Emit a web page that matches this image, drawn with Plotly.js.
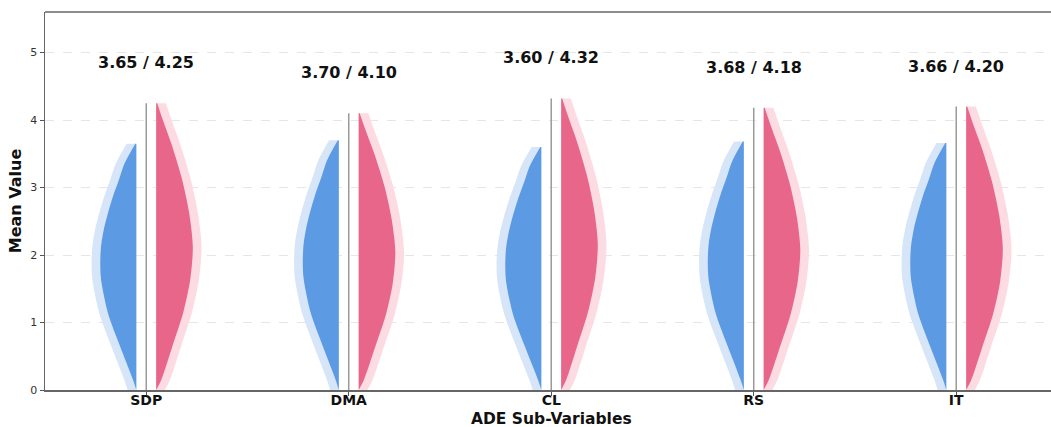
<!DOCTYPE html>
<html>
<head>
<meta charset="utf-8">
<script src="https://cdn.plot.ly/plotly-3.0.1.min.js"></script>
<style>
html,body{margin:0;padding:0;background:#fff;}
#chart{width:1051px;height:427px;}
</style>
</head>
<body>
<div id="chart"></div>
<script>
// ---- data ----
const categories = ["SDP", "DMA", "CL", "RS", "IT"];
const blueMax = [3.65, 3.70, 3.60, 3.68, 3.66];
const redMax  = [4.25, 4.10, 4.32, 4.18, 4.20];
// density profiles: half-widths (category units) at fractions of each series' max height
const blueLevels = [0, 0.041, 0.175, 0.312, 0.447, 0.515, 0.584, 0.649, 0.718, 0.786, 0.855, 0.92, 1];
const blueWidths = [0, 0.016, 0.079, 0.140, 0.174, 0.178, 0.174, 0.161, 0.140, 0.115, 0.085, 0.058, 0.005];
const redLevels  = [0, 0.035, 0.15, 0.268, 0.384, 0.5, 0.617, 0.734, 0.85, 0.941, 1];
const redWidths  = [0, 0.025, 0.079, 0.133, 0.168, 0.181, 0.163, 0.128, 0.079, 0.033, 0.005];

// ---- styling ----
const GAP = 0.049;      // distance from centre line to each half
const HALO = 0.043;     // halo thickness
const blueFill = "#5c9be4", blueHalo = "#d7e5f8";
const redFill = "#e8668a", redHalo = "#fddbe3";

const traces = [];
function half(c, maxV, levels, widths, side, extra, color) {
  const base = c + side * GAP;
  const ys = levels.map(t => t * maxV);
  // base line (invisible), the curve is filled against it
  traces.push({x: [base, base], y: [0, maxV], mode: "lines", line: {width: 0, color: "rgba(0,0,0,0)"},
               hoverinfo: "skip", showlegend: false});
  traces.push({x: widths.map(w => base + side * (w + extra)), y: ys, mode: "lines",
               line: {width: 0, shape: "spline", smoothing: 0.8, color: color},
               fill: "tonextx", fillcolor: color, hoverinfo: "skip", showlegend: false});
}
categories.forEach((cat, i) => {
  half(i, blueMax[i], blueLevels, blueWidths, -1, HALO, blueHalo);
  half(i, redMax[i], redLevels, redWidths, 1, HALO, redHalo);
  half(i, blueMax[i], blueLevels, blueWidths, -1, 0, blueFill);
  half(i, redMax[i], redLevels, redWidths, 1, 0, redFill);
  traces.push({x: [i, i], y: [0, redMax[i]], mode: "lines", line: {color: "#9a9a9a", width: 1.5},
               hoverinfo: "skip", showlegend: false});
});

const annotations = categories.map((cat, i) => ({
  x: i, y: redMax[i] + 0.6, xref: "x", yref: "y",
  text: blueMax[i].toFixed(2) + " / " + redMax[i].toFixed(2),
  showarrow: false, yanchor: "middle",
  font: {family: "DejaVu Sans", size: 16, color: "#111", weight: "bold"}
}));
annotations.push({
  x: 2, xref: "x", y: -0.0754, yref: "paper", yanchor: "middle", showarrow: false,
  text: "ADE Sub-Variables", borderpad: 0,
  font: {family: "DejaVu Sans", size: 15.5, color: "#111", weight: "bold"}
});

const layout = {
  width: 1051, height: 427,
  margin: {l: 45, r: 0, t: 12, b: 37},
  paper_bgcolor: "#fff", plot_bgcolor: "#fff",
  showlegend: false,
  font: {family: "DejaVu Sans", color: "#222"},
  xaxis: {
    range: [-0.5, 4.468], tickmode: "array", tickvals: categories.map((c, i) => i), ticktext: categories,
    tickfont: {family: "DejaVu Sans", size: 14, color: "#111", weight: "bold"},
    ticks: "outside", ticklen: 4, tickcolor: "#555", ticklabelstandoff: -7,
    showline: true, linecolor: "#666", linewidth: 1.5, showgrid: false, zeroline: false,
    automargin: false
  },
  yaxis: {
    range: [0, 5.6], tickvals: [0, 1, 2, 3, 4, 5],
    tickfont: {family: "DejaVu Sans", size: 11, color: "#333"},
    ticks: "outside", ticklen: 4, tickcolor: "#555",
    showline: true, linecolor: "#666", linewidth: 1.5,
    showgrid: true, gridcolor: "#e6e6e6", griddash: "dash", gridwidth: 1, zeroline: false,
    title: {text: "Mean Value", font: {family: "DejaVu Sans", size: 16, color: "#111", weight: "bold"}, standoff: 4},
    automargin: false
  },
  shapes: [{type: "line", xref: "paper", yref: "paper", x0: 0, x1: 1, y0: 1, y1: 1,
            line: {color: "#666", width: 1.5}}],
  annotations: annotations
};

Plotly.newPlot("chart", traces, layout, {displayModeBar: false, staticPlot: true});
</script>
</body>
</html>
